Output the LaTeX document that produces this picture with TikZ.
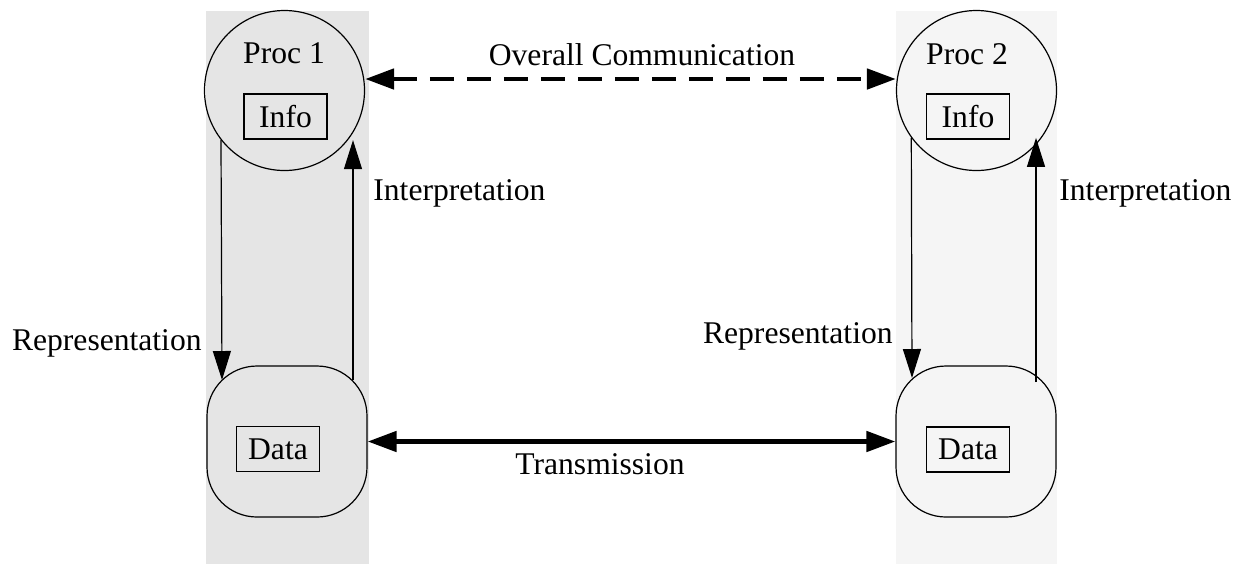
\documentclass[tikz,border=0pt]{standalone}
\usepackage{fontspec}
\setmainfont{Liberation Serif}
\usepackage{tikz}
\usetikzlibrary{arrows.meta,shapes,positioning}
\tikzstyle{every node}=[font=\fontsize{15.8}{19}\selectfont, inner sep=0pt]

\begin{document}
\begin{tikzpicture}[x=0.5pt, y=-0.5pt,
        proc/.style={
                draw=black,
                circle,
                minimum size=80pt,
                line width=0.6pt
            },
        infobox/.style={
                draw=black,
                minimum width=41.5pt,
                minimum height=22.5pt,
                line width=0.6pt
            },
        store/.style={
                draw=black,
                rounded corners=25pt,
                minimum width=80pt,
                minimum height=75.5pt,
                line width=0.6pt
            },
        lbl/.style={anchor=base},
        flow/.style={-{Triangle[length=14.5pt,width=9pt]}, line width=0.6pt},
        link/.style={{Triangle[length=14.5pt,width=10pt]}-{Triangle[length=14.5pt,width=10pt]}, line width=2.4pt},
        overall/.style={link, dash pattern=on 12pt off 6.5pt}
    ]
    \useasboundingbox (0,0) rectangle (1241,564);
    %bands
    \fill[black!10] (206,11) rectangle (369,564);
    \fill[black!4] (896,11) rectangle (1057,564);

    %proc 1
    \node[proc] (p1) at (284.5,90.5) {};
    \node[lbl] (name1) at (284,63.5) {Proc 1};
    \node[infobox] (info1) at (285.5,116.5) {Info};
    \node[store] (d1) at (287,441.5) {};
    \node[infobox] (data1) at (278,449) {Data};

    %proc 2
    \node[proc] (p2) at (976.5,90.5) {};
    \node[lbl] (name2) at (967,64) {Proc 2};
    \node[infobox] (info2) at (968,116.5) {Info};
    \node[store] (d2) at (976,441.5) {};
    \node[infobox] (data2) at (968,449.5) {Data};

    %arrows
    \coordinate (rep1) at (222,380);
    \coordinate (int1) at (353,380);
    \coordinate (rep2) at (912,378);
    \coordinate (int2) at (1036,382);
    \draw[flow] (p1.218) -- (rep1);
    \draw[flow] (int1) -- (int1 |- p1.218);
    \draw[flow] (p2.216) -- (rep2);
    \draw[flow] (int2) -- (int2 |- p2.216);
    \draw[overall] ([yshift=5.75pt]p1.east) -- ([yshift=5.75pt]p2.west);
    \draw[link] (d1.east) -- (d2.west);

    %labels
    \node[lbl] (overall) at (642,65) {Overall Communication};
    \node[lbl] (trans) at (600,474) {Transmission};
    \node[lbl, anchor=base west] (interp1) at (373,200) {Interpretation};
    \node[lbl, anchor=base west] (interp2) at (1059,200) {Interpretation};
    \node[lbl, anchor=base east] (repr1) at (202,350) {Representation};
    \node[lbl, anchor=base east] (repr2) at (893,343.5) {Representation};
\end{tikzpicture}
\end{document}
